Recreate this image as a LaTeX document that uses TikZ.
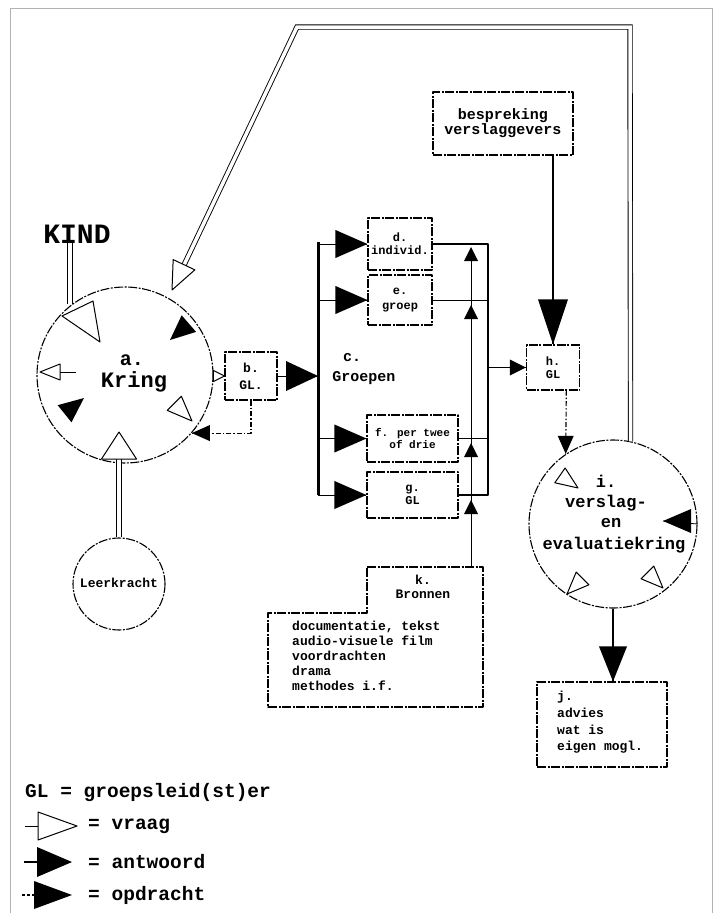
\documentclass[tikz,border=0pt]{standalone}
\usepackage{fontspec}
\setmainfont{Liberation Mono}
\newcommand\myfs[2]{\fontsize{#1}{#2}\selectfont}
\begin{document}
\begin{tikzpicture}[x=1pt,y=-1pt,line join=round,
  scan/.style={line width=1.1pt,dash pattern=on 9pt off 1.5pt on 2pt off 1.5pt},
  dbl/.style={line width=0.9pt,double=white,double distance=3.5pt},
  linkdd/.style={line width=1.1pt,dash pattern=on 5pt off 2pt on 1.5pt off 2pt},
  box/.style={draw,scan,inner sep=0pt,align=center,font=\bfseries\myfs{12}{13}},
  ring/.style={draw,scan,circle,inner sep=0pt},
  lab/.style={inner sep=0pt,font=\bfseries\myfs{#1}{#1}},
  pics/fh/.style 2 args={code={\fill (0,0) -- (-#1,#2/2) -- (-#1,-#2/2) -- cycle;}},
  pics/hh/.style 2 args={code={\draw[line width=1pt,fill=white] (0,0) -- (-#1,#2/2) -- (-#1,-#2/2) -- cycle;}},
]
\useasboundingbox (0,0) rectangle (718,913);
% frame
\draw[gray!60,line width=0.8pt] (10,913) -- (10,8) -- (712,8) -- (712,913);

% ---- nodes
\node[lab=28] (kind) at (77,234) {KIND};
\node[ring,minimum size=176pt] (kring) at (125,375) {};
\node[lab=20] (kringa) at (132,360) {a.};
\node[lab=22] (kringt) at (134,382) {Kring};
\node[ring,minimum size=92pt] (leer) at (119,584) {};
\node[lab=13] (leert) at (119,583) {Leerkracht};
\node[box,minimum width=52pt,minimum height=48pt,font=\bfseries\myfs{13}{17}] (b) at (251,376) {b.\\GL.};
\node[lab=15] (ca) at (352,358) {c.};
\node[lab=15] (ct) at (364,378) {Groepen};
\node[box,minimum width=64pt,minimum height=52pt] (d) at (400,244) {d.\\individ.};
\node[box,minimum width=64pt,minimum height=50pt,font=\bfseries\myfs{12}{15}] (e) at (400,300) {e.\\groep};
\node[box,minimum width=91pt,minimum height=47pt,font=\bfseries\myfs{11}{12}] (f) at (412.5,438.5) {f. per twee\\of drie};
\node[box,minimum width=91pt,minimum height=46pt] (g) at (412.5,495) {g.\\GL};
\node[box,minimum width=140pt,minimum height=63pt,font=\bfseries\myfs{15}{15}] (besp) at (503,123.5) {bespreking\\verslaggevers};
\node[box,minimum width=53pt,minimum height=45pt] (h) at (553,367.5) {h.\\GL};
\node[ring,minimum size=168pt] (eval) at (613,524) {};
\node[lab=17] (evali) at (606,481) {i.};
\node[lab=17] (evalv) at (606,503) {verslag-};
\node[lab=17] (evale) at (611,523) {en};
\node[lab=17] (evalt) at (614,545) {evaluatiekring};
\node[box,minimum width=130pt,minimum height=85pt] (j) at (602,724.5) {};
\node[anchor=north west,align=left,inner sep=0pt,font=\bfseries\myfs{13}{16.7}] (jt) at (557,691) {j.\\advies\\wat is\\eigen mogl.};

% k Bronnen (L-shaped box)
\coordinate (k1) at (367,567);
\coordinate (k2) at (483,567);
\coordinate (k3) at (483,707);
\coordinate (k4) at (268,707);
\coordinate (k5) at (268,613);
\coordinate (k6) at (367,613);
\draw[scan] (k1) -- (k2) -- (k3) -- (k4) -- (k5) -- (k6) -- cycle;
\node[align=center,inner sep=0pt,font=\bfseries\myfs{13}{14}] (kt) at (423,587) {k.\\Bronnen};
\node[anchor=north west,align=left,inner sep=0pt,font=\bfseries\myfs{13}{15}] (kl) at (292,621)
  {documentatie, tekst\\audio-visuele  film\\voordrachten\\drama\\methodes i.f.};

% ---- KIND -> kring
\coordinate (kindend) at (70,304);
\draw[dbl] (kind.south -| kindend) -- (kindend);
\draw[line width=1pt,fill=white] (62,316) -- (93,301) -- (100,342) -- cycle;

% ---- leerkracht -> kring
\coordinate (leerend) at (119,459);
\draw[dbl] (leer.north) -- (leerend);
\pic[rotate=90] at (119,432) {hh={27}{35}};

% ---- top loop eval -> kring
\coordinate (loopA) at (630,27);
\coordinate (loopB) at (297,27);
\coordinate (loopE) at (184,265);
\draw[dbl,line join=miter] (eval.78) -- (loopA) -- (loopB) -- (loopE);
\pic[rotate=244.6] at (172,290) {hh={28}{24}};

% ---- arrows inside kring
\pic[rotate=221] at (170,340) {fh={25}{22}};
\draw[thick] (60,372) -- (76,372);
\pic[rotate=180] at (40,372) {hh={20}{16}};
\pic[rotate=39] at (84,398) {fh={25}{22}};
\pic[rotate=-45] at (192,421) {hh={25}{20}};

% ---- kring <-> b
\draw[thick,densely dotted] (kring.east) -- (b.west);
\pic at (b.west) {hh={11}{11}};
\draw[linkdd] (b.south) |- (kring.-41);
\pic[rotate=180] at (kring.-41) {fh={18}{16}};

% ---- bus
\coordinate (busT) at (318,242);
\coordinate (busB) at (318,495);
\draw[line width=3pt] (busT) -- (busB);
\draw[thick] (b.east) -- (b.east -| busT);
\pic at (b.east -| busT) {fh={32}{30}};
\foreach \bx in {d,e,f,g}{
  \draw[thick] (\bx.west -| busT) -- (\bx.west);
  \pic at (\bx.west) {fh={32}{28}};
}

% ---- output column B
\coordinate (colB) at (488,243);
\draw[line width=2.5pt] (d.east) -- (d.east -| colB) -- (g.east -| colB) -- (g.east);
\draw[thick] (e.east) -- (e.east -| colB);
\draw[thick] (f.east) -- (f.east -| colB);
\draw[thick] (h.west -| colB) -- (h.west);
\pic at (h.west) {fh={16}{16}};

% ---- input column A from Bronnen
\coordinate (ktop) at (471,567);
\coordinate (colA) at (471,250);
\draw[thick] (ktop) -- (colA);
\foreach \yy in {247,305,443,500}{
  \pic[rotate=90] at (471,\yy) {fh={14}{14}};
}

% ---- bespreking -> h
\draw[line width=2.5pt] (besp.south -| h.north) -- (h.north);
\pic[rotate=-90] at (h.north) {fh={45}{30}};

% ---- h -> eval
\draw[linkdd] (h.-60) -- (eval.124);
\pic[rotate=-90] at (eval.124) {fh={18}{16}};

% ---- arrows inside eval
\pic[rotate=-35] at (578,488) {hh={22}{18}};
\draw[thick] (eval.east) -- (663,521);
\pic[rotate=180] at (663,521) {fh={28}{24}};
\pic[rotate=225] at (567,594) {hh={22}{18}};
\pic[rotate=-45] at (663,588) {hh={22}{18}};

% ---- eval -> j
\draw[line width=2.5pt] (eval.south) -- (eval.south |- j.north);
\pic[rotate=-90] at (eval.south |- j.north) {fh={35}{28}};

% ---- legend
\node[lab=19.5,anchor=west] (leg0) at (25,792) {GL = groepsleid(st)er};
\draw[thick] (25,826) -- (38,826);
\pic at (77,826) {hh={39}{28}};
\node[lab=19.5,anchor=west] (leg1) at (88,826) {= vraag};
\draw[line width=2.5pt] (24,862) -- (40,862);
\pic at (72,862) {fh={35}{30}};
\node[lab=19.5,anchor=west] (leg2) at (88,862) {= antwoord};
\draw[line width=2pt,dash pattern=on 3pt off 2pt] (22,895) -- (36,895);
\pic at (72,895) {fh={38}{28}};
\node[lab=19.5,anchor=west] (leg3) at (88,895) {= opdracht};
\end{tikzpicture}
\end{document}
